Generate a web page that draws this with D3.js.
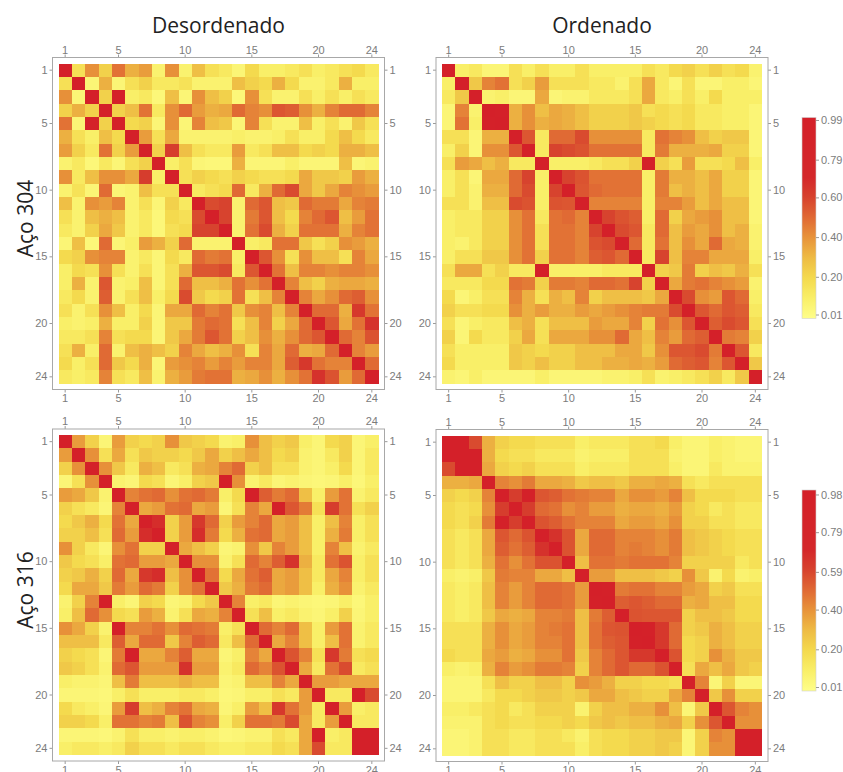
<!DOCTYPE html>
<html>
<head>
<meta charset="utf-8">
<script src="https://cdn.jsdelivr.net/npm/d3@7"></script>
<style>
  body { margin: 0; background: #fff; }
  .title { font-family: 'Open Sans', 'Noto Sans', sans-serif; font-size: 21px; fill: #222; }
  .tick text { font-family: 'Liberation Sans', Arial, sans-serif; font-size: 11px; fill: #7c7c7c; }
  .tick line { stroke: #9a9a9a; }
</style>
</head>
<body>
<svg id="chart" width="843" height="772"></svg>
<script>
const N = 24
const TICKS = [1, 5, 10, 15, 20, 24]
const COLUMN_TITLES = ['Desordenado', 'Ordenado']
const ROW_TITLES = ['Aço 304', 'Aço 316']
const BAR_TICKS_304 = [0.01, 0.20, 0.40, 0.60, 0.79, 0.99]
const BAR_TICKS_316 = [0.01, 0.20, 0.40, 0.59, 0.79, 0.98]

// lower triangles (row i holds columns 1..i), matrices are symmetric
const ACO304_DESORDENADO = [
  [1],
  [.17, 1],
  [.41, .06, 1],
  [.23, .33, .23, 1],
  [.48, .06, .95, .23, 1],
  [.33, .17, .1, .29, .2, 1],
  [.38, .23, .13, .48, .23, .38, 1],
  [.08, .13, .05, .13, .06, .17, .23, 1],
  [.41, .13, .29, .41, .41, .35, .62, .1, 1],
  [.08, .16, .06, .5, .06, .08, .29, .17, .17, 1],
  [.29, .08, .41, .38, .44, .08, .17, .06, .23, .13, 1],
  [.17, .08, .29, .33, .29, .08, .13, .05, .2, .17, .58, 1],
  [.13, .08, .23, .35, .26, .08, .13, .05, .17, .2, .6, .6, 1],
  [.06, .29, .05, .5, .06, .1, .38, .33, .23, .5, .08, .08, .08, 1],
  [.2, .23, .41, .44, .44, .08, .13, .06, .2, .13, .5, .46, .48, .1, 1],
  [.1, .2, .17, .41, .17, .08, .17, .06, .17, .33, .55, .55, .58, .13, .55, 1],
  [.1, .33, .08, .55, .08, .1, .29, .06, .17, .5, .29, .29, .33, .48, .41, .48, 1],
  [.13, .2, .08, .53, .08, .17, .29, .1, .2, .58, .26, .2, .23, .48, .17, .29, .44, 1],
  [.17, .08, .17, .41, .29, .1, .2, .06, .35, .35, .5, .44, .48, .26, .41, .44, .29, .44, 1],
  [.1, .08, .1, .33, .1, .1, .23, .06, .26, .26, .46, .5, .48, .17, .29, .44, .23, .35, .5, 1],
  [.13, .13, .17, .44, .17, .2, .2, .06, .26, .35, .46, .55, .48, .23, .29, .41, .33, .41, .5, .55, 1],
  [.17, .33, .1, .5, .08, .29, .33, .29, .23, .44, .35, .29, .33, .41, .17, .44, .35, .5, .33, .35, .5, 1],
  [.2, .1, .17, .5, .26, .2, .33, .06, .38, .41, .44, .38, .44, .38, .44, .44, .35, .53, .64, .48, .44, .44, 1],
  [.13, .1, .13, .44, .17, .13, .29, .08, .33, .38, .46, .48, .48, .33, .35, .41, .33, .41, .48, .66, .56, .38, .5, 1],
]

const ACO304_ORDENADO = [
  [1],
  [.1, 1],
  [.13, .26, 1],
  [.06, .44, .08, 1],
  [.06, .48, .1, .95, 1],
  [.17, .17, .06, .33, .33, 1],
  [.1, .23, .06, .41, .41, .55, 1],
  [.17, .38, .35, .29, .33, .13, .13, 1],
  [.1, .17, .06, .35, .35, .5, .6, .1, 1],
  [.1, .17, .08, .33, .33, .5, .58, .1, .6, 1],
  [.17, .17, .08, .29, .29, .58, .56, .1, .56, .55, 1],
  [.1, .13, .13, .23, .23, .41, .48, .13, .48, .5, .44, 1],
  [.1, .13, .13, .23, .23, .41, .48, .17, .48, .48, .44, .6, 1],
  [.1, .08, .13, .23, .23, .41, .48, .17, .48, .48, .44, .56, .58, 1],
  [.1, .17, .17, .26, .26, .41, .48, .23, .48, .48, .44, .53, .55, .5, 1],
  [.17, .35, .35, .17, .23, .13, .13, .98, .1, .1, .1, .1, .13, .13, .13, 1],
  [.13, .13, .13, .2, .2, .48, .46, .23, .46, .46, .44, .5, .5, .48, .6, .23, 1],
  [.2, .06, .1, .17, .17, .44, .33, .17, .33, .29, .44, .23, .29, .29, .29, .26, .35, 1],
  [.23, .17, .17, .2, .2, .41, .33, .38, .33, .33, .38, .35, .38, .41, .44, .46, .46, .58, 1],
  [.17, .06, .1, .13, .13, .29, .33, .17, .29, .29, .29, .38, .35, .35, .44, .23, .48, .41, .55, 1],
  [.23, .06, .2, .13, .13, .23, .35, .17, .35, .35, .35, .41, .41, .5, .35, .29, .44, .38, .5, .53, 1],
  [.17, .1, .1, .1, .1, .26, .23, .2, .23, .23, .29, .29, .29, .35, .35, .26, .41, .55, .55, .58, .46, 1],
  [.2, .1, .1, .1, .1, .26, .23, .29, .23, .23, .29, .29, .33, .33, .35, .33, .38, .5, .53, .55, .44, .55, 1],
  [.08, .06, .1, .06, .06, .06, .06, .1, .06, .06, .06, .06, .08, .08, .1, .17, .08, .1, .13, .17, .23, .13, .26, 1],
]

const ACO316_DESORDENADO = [
  [1],
  [.38, 1],
  [.23, .41, 1],
  [.06, .17, .41, 1],
  [.38, .35, .26, .08, 1],
  [.23, .17, .13, .06, .44, 1],
  [.2, .26, .33, .2, .48, .35, 1],
  [.23, .23, .29, .17, .5, .38, .68, 1],
  [.41, .23, .13, .06, .41, .48, .23, .23, 1],
  [.26, .2, .17, .1, .48, .5, .38, .38, .35, 1],
  [.23, .26, .33, .23, .5, .35, .64, .68, .29, .41, 1],
  [.2, .35, .35, .26, .46, .38, .5, .46, .23, .41, .48, 1],
  [.08, .23, .44, .98, .1, .06, .23, .2, .06, .08, .2, .26, 1],
  [.1, .29, .5, .41, .2, .17, .38, .33, .08, .17, .35, .33, .44, 1],
  [.41, .35, .23, .08, .98, .44, .44, .48, .41, .5, .48, .46, .1, .17, 1],
  [.29, .29, .29, .13, .53, .35, .5, .5, .26, .44, .53, .5, .13, .29, .5, 1],
  [.23, .2, .17, .06, .46, .98, .35, .35, .44, .53, .35, .35, .06, .1, .44, .35, 1],
  [.26, .23, .17, .08, .5, .55, .38, .38, .38, .66, .38, .38, .08, .13, .5, .44, .56, 1],
  [.1, .08, .08, .06, .29, .46, .29, .29, .29, .33, .29, .29, .06, .08, .29, .29, .44, .35, 1],
  [.06, .06, .06, .05, .1, .17, .1, .1, .1, .13, .13, .1, .05, .06, .1, .1, .17, .13, .38, 1],
  [.2, .13, .1, .06, .38, .62, .29, .33, .44, .48, .35, .33, .06, .1, .38, .29, .64, .48, .38, .13, 1],
  [.23, .23, .2, .1, .48, .48, .44, .46, .29, .56, .44, .41, .1, .23, .48, .48, .46, .58, .35, .13, .38, 1],
  [.06, .06, .06, .05, .08, .17, .1, .1, .08, .1, .1, .08, .05, .06, .08, .08, .17, .13, .35, .98, .1, .13, 1],
  [.1, .13, .13, .1, .13, .23, .17, .17, .13, .17, .17, .13, .1, .1, .13, .13, .2, .17, .35, .58, .13, .13, .98, 1],
]

const ACO316_ORDENADO = [
  [1],
  [.98, 1],
  [.58, .98, 1],
  [.33, .33, .35, 1],
  [.23, .2, .23, .44, 1],
  [.2, .17, .2, .41, .62, 1],
  [.2, .17, .23, .46, .95, .62, 1],
  [.17, .13, .17, .35, .55, .5, .56, 1],
  [.17, .13, .17, .35, .53, .48, .53, .66, 1],
  [.17, .13, .17, .33, .48, .41, .48, .56, .56, 1],
  [.1, .08, .1, .26, .46, .44, .44, .35, .35, .29, 1],
  [.13, .1, .13, .29, .44, .38, .44, .5, .5, .48, .38, 1],
  [.13, .1, .13, .29, .44, .38, .44, .5, .5, .48, .38, .95, 1],
  [.13, .1, .13, .26, .35, .33, .35, .44, .44, .46, .29, .46, .53, 1],
  [.17, .17, .17, .33, .41, .35, .38, .44, .46, .48, .29, .48, .55, .56, 1],
  [.17, .17, .17, .33, .41, .35, .38, .44, .44, .48, .29, .48, .53, .55, .95, 1],
  [.2, .17, .17, .35, .38, .33, .35, .41, .41, .48, .26, .44, .5, .55, .64, .64, 1],
  [.1, .08, .1, .33, .44, .38, .41, .46, .46, .44, .23, .44, .5, .55, .5, .5, .56, 1],
  [.06, .06, .06, .17, .29, .23, .23, .29, .29, .23, .41, .38, .33, .23, .23, .2, .2, .17, 1],
  [.06, .06, .06, .13, .2, .2, .23, .26, .26, .23, .26, .35, .35, .29, .26, .23, .23, .35, .44, 1],
  [.1, .1, .13, .17, .2, .13, .17, .23, .23, .23, .08, .23, .29, .29, .33, .33, .41, .29, .06, .26, 1],
  [.08, .08, .08, .17, .2, .17, .17, .2, .2, .23, .2, .26, .29, .26, .29, .29, .33, .35, .23, .41, .55, 1],
  [.06, .06, .08, .17, .17, .13, .13, .17, .17, .13, .08, .17, .2, .2, .23, .23, .26, .26, .06, .23, .44, .41, 1],
  [.06, .06, .08, .17, .17, .13, .13, .17, .17, .17, .1, .17, .2, .2, .23, .23, .26, .23, .06, .23, .41, .41, .98, 1],
]

const COLOR = d3.scaleLinear()
  .domain([0, 0.1, 0.2, 0.3, 0.4, 0.5, 0.6, 0.7, 1])
  .range(['#fefe8a', '#f9ef68', '#f4da4e', '#eebc44', '#e8943a', '#e06a34', '#d7432e', '#d4272a', '#d42029'])
  .clamp(true)

const FRAME = 332
const PAD = 6

const PANELS = [
  { tri: ACO304_DESORDENADO, x: 52.5, y: 57.5 },
  { tri: ACO304_ORDENADO, x: 436, y: 57.5 },
  { tri: ACO316_DESORDENADO, x: 52.5, y: 429 },
  { tri: ACO316_ORDENADO, x: 436, y: 429.5 },
]

const BARS = [
  { ticks: BAR_TICKS_304, x: 802, top: 118, bottom: 316.5 },
  { ticks: BAR_TICKS_316, x: 802, top: 490.5, bottom: 689 },
]

const svg = d3.select('#chart')

const full = tri => d3.range(N).map(i => d3.range(N).map(j => (i >= j ? tri[i][j] : tri[j][i])))

const styleAxis = g => {
  g.attr('color', '#9a9a9a')
  g.select('.domain').remove()
}

PANELS.forEach(p => {
  const g = svg.append('g').attr('transform', `translate(${p.x},${p.y})`)
  const band = d3.scaleBand().domain(d3.range(1, N + 1)).range([PAD, FRAME - PAD])
  const cells = full(p.tri).flatMap((row, i) => row.map((v, j) => ({ r: i + 1, c: j + 1, v })))

  g.append('g')
    .selectAll('rect')
    .data(cells)
    .join('rect')
    .attr('x', d => band(d.c))
    .attr('y', d => band(d.r))
    .attr('width', band.bandwidth() + 0.4)
    .attr('height', band.bandwidth() + 0.4)
    .attr('fill', d => COLOR(d.v))
    .attr('shape-rendering', 'crispEdges')

  g.append('g').call(d3.axisTop(band).tickValues(TICKS).tickSize(3).tickPadding(1)).call(styleAxis)
  g.append('g').attr('transform', `translate(0,${FRAME})`)
    .call(d3.axisBottom(band).tickValues(TICKS).tickSize(3).tickPadding(2)).call(styleAxis)
  g.append('g').call(d3.axisLeft(band).tickValues(TICKS).tickSize(3).tickPadding(2)).call(styleAxis)
  g.append('g').attr('transform', `translate(${FRAME},0)`)
    .call(d3.axisRight(band).tickValues(TICKS).tickSize(3).tickPadding(2)).call(styleAxis)

  g.append('rect')
    .attr('width', FRAME)
    .attr('height', FRAME)
    .attr('fill', 'none')
    .attr('stroke', '#a8a8a8')
})

// colour bars
const grad = svg.append('defs').append('linearGradient')
  .attr('id', 'bar-grad')
  .attr('x1', 0).attr('x2', 0).attr('y1', 1).attr('y2', 0)
grad.selectAll('stop')
  .data(d3.range(0, 1.001, 0.02))
  .join('stop')
  .attr('offset', d => d)
  .attr('stop-color', d => COLOR(d))

BARS.forEach(b => {
  const y = d3.scaleLinear().domain([0, 1]).range([b.bottom, b.top])
  svg.append('rect')
    .attr('x', b.x)
    .attr('y', b.top - 0.5)
    .attr('width', 14)
    .attr('height', b.bottom - b.top + 2.5)
    .attr('fill', 'url(#bar-grad)')
    .attr('stroke', '#d0d0d0')
    .attr('stroke-width', 0.6)
  svg.append('g')
    .attr('transform', `translate(${b.x + 14},0)`)
    .call(d3.axisRight(y).tickValues(b.ticks).tickSize(3).tickPadding(2).tickFormat(d3.format('.2f')))
    .call(styleAxis)
})

// titles
svg.selectAll('text.col-title')
  .data(COLUMN_TITLES)
  .join('text')
  .attr('class', 'title col-title')
  .attr('x', (d, i) => PANELS[i].x + FRAME / 2)
  .attr('y', 33)
  .attr('text-anchor', 'middle')
  .text(d => d)

svg.selectAll('text.row-title')
  .data(ROW_TITLES)
  .join('text')
  .attr('class', 'title row-title')
  .attr('transform', (d, i) => `translate(33,${PANELS[i * 2].y + FRAME / 2 - 5}) rotate(-90)`)
  .attr('text-anchor', 'middle')
  .text(d => d)
</script>
</body>
</html>
